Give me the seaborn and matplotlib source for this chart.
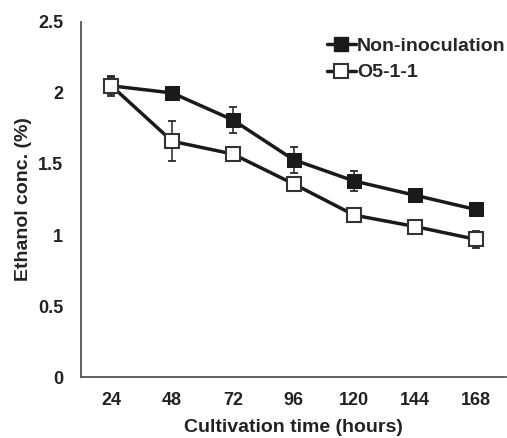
import numpy as np
import pandas as pd
import matplotlib
matplotlib.use("Agg")
import matplotlib.pyplot as plt
from matplotlib.lines import Line2D
import seaborn as sns

hours = [24, 48, 72, 96, 120, 144, 168]
non_inoc = [2.05, 2.00, 1.81, 1.53, 1.38, 1.28, 1.18]
non_inoc_err = [0.06, 0.03, 0.09, 0.09, 0.07, 0.03, 0.03]
o5 = [2.05, 1.66, 1.57, 1.36, 1.14, 1.06, 0.97]
o5_err = [0.07, 0.14, 0.02, 0.03, 0.02, 0.02, 0.06]
series_names = ["Non-inoculation", "O5-1-1"]

df = pd.DataFrame({
    "hours": hours * 2,
    "ethanol": non_inoc + o5,
    "err": non_inoc_err + o5_err,
    "group": [series_names[0]] * 7 + [series_names[1]] * 7,
})

sns.set_style("white")
plt.rcParams["font.family"] = ["Liberation Sans", "DejaVu Sans"]
plt.rcParams["font.weight"] = "bold"

fig = plt.figure(figsize=(5.07, 4.38), dpi=100)
ax = fig.add_axes([0.16, 0.139, 0.838, 0.811])

ink = "#1a1a1a"
edge = "#333333"
# error bars first so markers sit on top
for name in series_names:
    sub = df[df["group"] == name]
    ax.errorbar(sub["hours"], sub["ethanol"], yerr=sub["err"], fmt="none",
                ecolor=edge, elinewidth=1.2, capsize=3, capthick=1.2, zorder=1)

sns.lineplot(data=df, x="hours", y="ethanol", hue="group", style="group",
             palette=[ink, ink], markers=["s", "s"], dashes=False,
             linewidth=2.5, markersize=10, ax=ax, zorder=3, legend=False)

# open squares for O5-1-1
for ln in ax.lines:
    ys = list(ln.get_ydata())
    if len(ys) == 7 and np.allclose(ys, o5):
        ln.set_markerfacecolor("white")
        ln.set_markeredgecolor(edge)
        ln.set_markeredgewidth(1.5)
    elif len(ys) == 7:
        ln.set_markerfacecolor(ink)
        ln.set_markeredgecolor(ink)

ax.set_xlim(12, 180)
ax.set_ylim(0, 2.5)
ax.set_xticks(hours)
ax.set_yticks([0, 0.5, 1, 1.5, 2, 2.5])
ax.set_yticklabels(["0", "0.5", "1", "1.5", "2", "2.5"])
ax.tick_params(axis="y", direction="in", length=5, width=1.2, color="#555555",
               labelsize=13, pad=13)
ax.tick_params(axis="x", length=0, labelsize=13, pad=11)
for lab in ax.get_xticklabels() + ax.get_yticklabels():
    lab.set_fontweight("bold")
    lab.set_color("#222222")

sns.despine(ax=ax)
for s in ["left", "bottom"]:
    ax.spines[s].set_color("#555555")
    ax.spines[s].set_linewidth(1.3)

ax.set_xlabel("Cultivation time (hours)", fontsize=14, fontweight="bold", color="#222222", labelpad=7)
ax.set_ylabel("Ethanol conc. (%)", fontsize=14, fontweight="bold", color="#222222", labelpad=4)

handles = [
    Line2D([], [], color=ink, lw=2.5, marker="s", markersize=10,
           markerfacecolor=ink, markeredgecolor=ink),
    Line2D([], [], color=ink, lw=2.5, marker="s", markersize=10,
           markerfacecolor="white", markeredgecolor=edge, markeredgewidth=1.5),
]
leg = ax.legend(handles, series_names, loc="upper left", bbox_to_anchor=(0.56, 0.978),
                frameon=False, handlelength=1.5, handletextpad=0.05,
                labelspacing=0.45, borderaxespad=0,
                prop={"weight": "bold", "size": 14})

fig.savefig("out.png", dpi=100)
